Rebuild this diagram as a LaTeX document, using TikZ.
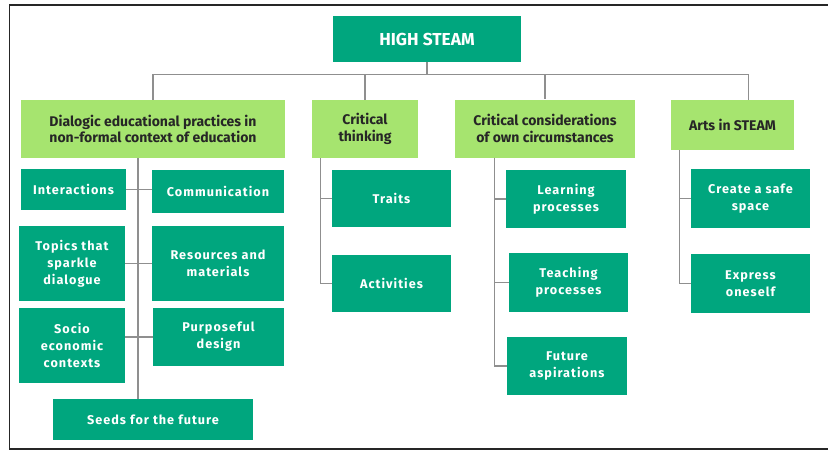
\documentclass[tikz,border=0pt]{standalone}
\usepackage{fontspec}
\setmainfont{Fira Sans}
\newfontfamily\spacedfont[LetterSpace=8]{Fira Sans}
\usepackage{xcolor}
\usetikzlibrary{positioning}
\definecolor{steamgreen}{HTML}{00A67E}
\definecolor{lightgreen}{HTML}{A6E46F}
\definecolor{linegray}{HTML}{8F8F8F}

\begin{document}
\begin{tikzpicture}[
  x=0.75pt, y=-0.75pt,
  sz/.style 2 args={minimum width=#1*0.75pt, minimum height=#2*0.75pt},
  rootbox/.style={draw=none, fill=steamgreen, inner sep=0pt, text=white,
    font=\fontsize{13}{15}\selectfont\bfseries},
  topic/.style={draw=none, fill=lightgreen, inner sep=0pt, align=center,
    text=black!85, font=\fontsize{10.5}{12.5}\selectfont\bfseries},
  item/.style={draw=none, fill=steamgreen, inner sep=0pt, align=center,
    text=white, font=\spacedfont\fontsize{9.5}{12.75}\selectfont\bfseries},
  edge/.style={draw, linegray, line width=0.8pt}
]
\useasboundingbox (0,0) rectangle (828,450);
% Frame
\draw[line width=1.2pt, black!85] (828,5) -- (9.5,5) -- (9.5,449) -- (828,449);

% Root
\node[rootbox, sz={188}{46}] (root) at (427,39) {HIGH STEAM};

% Level 1
\node[topic, sz={264}{58}] (dia) at (153,129)
  {Dialogic educational practices in\\non-formal context of education};
\node[topic, sz={106}{58}] (ct) at (365,129) {Critical\\thinking};
\node[topic, sz={180}{58}] (cc) at (545,128.5)
  {Critical considerations\\of own circumstances};
\node[topic, sz={123}{50}] (arts) at (732.5,125) {Arts in STEAM};

% Level 2 -- dialogic practices
\node[item, sz={105}{41}] (inter) at (73.5,189.5) {Interactions};
\node[item, sz={132}{43}] (comm) at (218,191.5) {Communication};
\node[item, sz={106}{75}] (topics) at (72,263.5) {Topics that\\sparkle\\dialogue};
\node[item, sz={132}{75}] (res) at (218,263.5) {Resources and\\materials};
\node[item, sz={106}{75}] (socio) at (72,345.5) {Socio\\economic\\contexts};
\node[item, sz={131}{58}] (purp) at (218.5,337) {Purposeful\\design};
\node[item, sz={200}{41}] (seeds) at (153,419.5) {Seeds for the future};

% Level 2 -- critical thinking
\node[item, sz={119}{57}] (traits) at (391.5,198.5) {Traits};
\node[item, sz={119}{57}] (act) at (391.5,283.5) {Activities};

% Level 2 -- own circumstances
\node[item, sz={120}{58}] (learn) at (566,199) {Learning\\processes};
\node[item, sz={119}{59}] (teach) at (568.5,282.5) {Teaching\\processes};
\node[item, sz={120}{58}] (fut) at (567,366) {Future\\aspirations};

% Level 2 -- arts
\node[item, sz={119}{59}] (create) at (750.5,198.5) {Create a safe\\space};
\node[item, sz={119}{59}] (express) at (750.5,283.5) {Express\\oneself};

% Edges from root
\foreach \c in {dia, ct, cc}
  \draw[edge] (root.south) -- ++(0,12) -| (\c.north);
\draw[edge] (root.south) -- ++(0,12) -| ([xshift=12pt]arts.north);

% Dialogic spine
\coordinate (dspine) at (138,158);
\draw[edge] (dspine) -- (dspine |- seeds.north);
\draw[edge] (inter.east) -- (inter.east -| comm.west);
\draw[edge] (topics.east) -- (res.west);
\draw[edge] (purp.west -| socio.east) -- (purp.west);

% Other spines
\foreach \p/\s/\c in {ct/6.75pt/traits, ct/6.75pt/act,
  cc/30pt/learn, cc/30pt/teach, cc/30pt/fut,
  arts/6.75pt/create, arts/6.75pt/express}
  \draw[edge] ([xshift=\s]\p.south west) |- (\c.west);
\end{tikzpicture}
\end{document}
